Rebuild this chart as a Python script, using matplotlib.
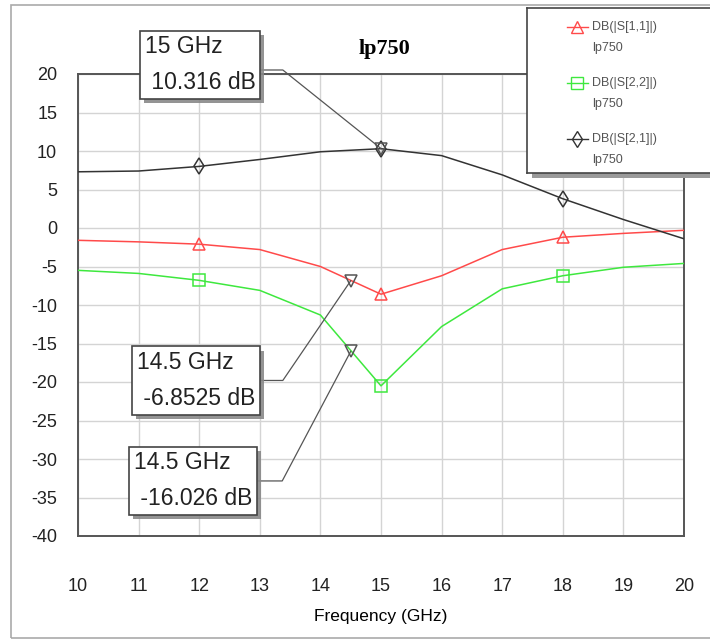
import matplotlib
matplotlib.use("Agg")
import matplotlib.pyplot as plt
import matplotlib.patheffects as pe
from matplotlib.patches import Rectangle
from matplotlib.lines import Line2D

plt.rcParams["axes.unicode_minus"] = False

# data
freq = [10, 11, 12, 13, 14, 15, 16, 17, 18, 19, 20]
s11 = [-1.6, -1.8, -2.1, -2.8, -5.0, -8.6, -6.2, -2.8, -1.2, -0.7, -0.3]
s22 = [-5.5, -5.9, -6.8, -8.1, -11.3, -20.5, -12.8, -7.9, -6.2, -5.1, -4.6]
s21 = [7.3, 7.4, 8.0, 8.9, 9.9, 10.3, 9.4, 6.9, 3.8, 1.1, -1.4]
sym_freq = [12, 15, 18]

series_labels = ["DB(|S[1,1]|)", "DB(|S[2,2]|)", "DB(|S[2,1]|)"]
series_doc = "lp750"
series_colors = ["#ff4a4a", "#3ee83e", "#333333"]
series_markers = ["^", "s", "d"]

marker_freq = [15, 14.5, 14.5]
marker_val = [10.316, -6.8525, -16.026]

SANS = ["Liberation Sans", "DejaVu Sans"]

W, H = 710, 642
fig = plt.figure(figsize=(W / 100, H / 100), dpi=100)
fig.patch.set_facecolor("white")

# outer frame
fig.add_artist(Rectangle((11 / W, 1 - 638 / H), (720 - 11) / W, (638 - 5) / H,
                         transform=fig.transFigure, fill=False, ec="#aaaaaa", lw=1.2))

ax = fig.add_axes([78 / W, 1 - 536 / H, (684 - 78) / W, (536 - 74) / H])
ax.set_xlim(10, 20)
ax.set_ylim(-40, 20)
ax.set_xticks(range(10, 21))
ax.set_yticks(range(-40, 21, 5))
ax.grid(True, color="#d4d4d4", lw=1.0)
ax.set_axisbelow(True)
for s in ax.spines.values():
    s.set_color("#555555")
    s.set_linewidth(1.4)
ax.tick_params(length=0, labelsize=13, colors="#222222")
ax.tick_params(axis="x", pad=30)
ax.tick_params(axis="y", pad=15)
for lab in ax.get_xticklabels() + ax.get_yticklabels():
    lab.set_family(SANS)

curves = [s11, s22, s21]
for ys, c, m in zip(curves, series_colors, series_markers):
    ax.plot(freq, ys, color=c, lw=1.1, zorder=3)
    sy = [ys[freq.index(f)] for f in sym_freq]
    ax.plot(sym_freq, sy, ls="none", marker=m, ms=9 if m != "d" else 8,
            mfc="none", mec=c, mew=1.1, zorder=4)

ax.set_xlabel("Frequency (GHz)", family=SANS, fontsize=12.5, labelpad=10)
ax.text(15.05, 23.2, series_doc, ha="center", va="center", fontsize=16,
        fontweight="bold", family=["Liberation Serif", "DejaVu Serif"])

# marker readouts
box_pos = [(11.10, 21.2, 12.97, 20.52, 13.38),
           (10.97, -19.8, 12.97, -19.8, 13.38),
           (10.92, -32.85, 12.94, -32.85, 13.37)]
for f, v, (tx, ty, bx, by, kx) in zip(marker_freq, marker_val, box_pos):
    ax.plot([f], [v], ls="none", marker="v", ms=8, mfc="none", mec="#555555",
            mew=1.1, zorder=5, clip_on=False)
    ax.plot([bx, kx, f], [by, by, v], color="#555555", lw=0.9, zorder=5,
            clip_on=False)
    t = ax.text(tx, ty, f"{f:g} GHz\n {v:g} dB", ha="left", va="center",
                fontsize=16.5, family=SANS, color="#222222", zorder=6,
                linespacing=1.72,
                bbox=dict(boxstyle="square,pad=0.2", fc="white", ec="#444444",
                          lw=1.2))
    t.get_bbox_patch().set_path_effects(
        [pe.SimplePatchShadow(offset=(3, -3), shadow_rgbFace="#888888", alpha=0.9),
         pe.Normal()])

# legend drawn in pixel coords
lx0, ly0, lx1, ly1 = 527, 8, 716, 173
shadow = Rectangle(((lx0 + 5) / W, 1 - (ly1 + 5) / H), (lx1 - lx0) / W, (ly1 - ly0) / H,
                   transform=fig.transFigure, fc="#9a9a9a", ec="none", zorder=4)
fig.add_artist(shadow)
lax = fig.add_axes([lx0 / W, 1 - ly1 / H, (lx1 - lx0) / W, (ly1 - ly0) / H])
lax.set_zorder(5)
lax.set_xlim(lx0, lx1)
lax.set_ylim(ly1, ly0)
lax.set_xticks([])
lax.set_yticks([])
for s in lax.spines.values():
    s.set_color("#444444")
    s.set_linewidth(1.2)
rows = [27, 83, 139]
for lab, c, m, yy in zip(series_labels, series_colors, series_markers, rows):
    lax.add_line(Line2D([567, 588], [yy, yy], color=c, lw=1.0))
    lax.plot([577], [yy], marker=m, ms=8, mfc="none", mec=c, mew=1.0)
    lax.text(592, yy, lab, va="center", ha="left", fontsize=9,
             family=SANS, color="#555555")
    lax.text(592, yy + 21, series_doc, va="center", ha="left", fontsize=9,
             family=SANS, color="#555555")

fig.savefig("out.png", dpi=100)
